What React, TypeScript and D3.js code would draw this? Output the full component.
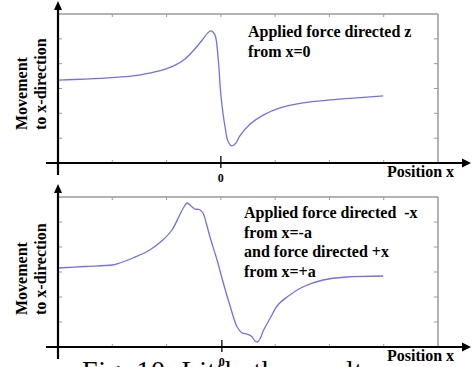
import React from "react";
import * as d3 from "d3";

// Panel 1: force directed z applied at x = 0
const topX = [-3, -2.5, -2, -1.5, -1.31, -1.01, -0.85, -0.66, -0.48, -0.33, -0.24, -0.18, -0.11, -0.05, 0, 0.08, 0.13, 0.2, 0.28, 0.35, 0.54, 0.78, 1.09, 1.51, 2.01, 2.62, 2.99];
const topY = [3.34, 3.38, 3.44, 3.54, 3.62, 3.79, 3.93, 4.19, 4.59, 4.99, 5.24, 5.32, 5.16, 4.23, 2.74, 1.41, 0.89, 0.69, 0.81, 1.09, 1.57, 1.93, 2.22, 2.42, 2.54, 2.64, 2.7];

// Panel 2: force -x at x = -a and +x at x = +a
const botX = [-3, -2.5, -2, -1.86, -1.62, -1.31, -1.07, -0.9, -0.75, -0.68, -0.62, -0.55, -0.48, -0.4, -0.33, -0.26, -0.2, -0.07, 0.04, 0.17, 0.3, 0.39, 0.48, 0.56, 0.63, 0.67, 0.72, 0.78, 0.91, 1.05, 1.22, 1.51, 1.88, 2.32, 2.99];
const botY = [3.16, 3.22, 3.28, 3.36, 3.56, 3.88, 4.28, 4.68, 5.32, 5.6, 5.76, 5.64, 5.52, 5.5, 5.36, 4.88, 4.4, 3.48, 2.6, 1.64, 0.8, 0.56, 0.52, 0.44, 0.24, 0.2, 0.32, 0.64, 1.16, 1.68, 2.0, 2.4, 2.68, 2.8, 2.84];

const xTicks = [-3, -2, -1, 0, 1, 2, 3, 4];
const yTicks = [0, 1, 2, 3, 4, 5, 6];

const topNote = ["Applied force directed z", "from x=0"];
const botNote = ["Applied force directed  -x", "from x=-a", "and force directed +x", "from x=+a"];
const yLabel = ["Movement", "to x-direction"];
const xLabel = "Position x";
const caption = "Fig. 10: Little the result";

const W = 472;
const H = 367;
const FONT = "'Liberation Serif', 'Times New Roman', serif";
const CURVE = "#6f6ff7";
const GRAY = "#9a9a9a";

type PanelProps = {
  xs: number[];
  ys: number[];
  top: number;
  bottom: number;
  zeroShift: number;
  note: string[];
  noteX: number;
  noteY: number;
  labelY: number;
};

function Panel({ xs, ys, top, bottom, zeroShift, note, noteX, noteY, labelY }: PanelProps) {
  const x = d3.scaleLinear().domain([-3, 4]).range([58, 438]);
  const y = d3.scaleLinear().domain([0, 6]).range([bottom, top]);
  const pts: [number, number][] = xs.map((v, i) => [v, ys[i]]);
  const line = d3
    .line<[number, number]>()
    .x((d) => x(d[0]))
    .y((d) => y(d[1]))
    .curve(d3.curveCatmullRom.alpha(0.5));
  const x0 = x(0) + zeroShift;
  const left = x(-3);
  const right = x(4);
  return (
    <g>
      {/* frame */}
      <line x1={left} x2={right} y1={top} y2={top} stroke={GRAY} strokeWidth={1.5} />
      <line x1={right} x2={right} y1={top} y2={bottom} stroke={GRAY} strokeWidth={1.5} />
      {yTicks.slice(1, -1).map((t) => (
        <g key={"y" + t}>
          <line x1={left} x2={left + 4} y1={y(t)} y2={y(t)} stroke={GRAY} strokeWidth={1} />
          <line x1={right - 4} x2={right} y1={y(t)} y2={y(t)} stroke={GRAY} strokeWidth={1} />
        </g>
      ))}
      {xTicks.slice(1, -1).filter((t) => t !== 0).map((t) => (
        <g key={"x" + t}>
          <line x1={x(t)} x2={x(t)} y1={top} y2={top + 3} stroke={GRAY} strokeWidth={1} />
          <line x1={x(t)} x2={x(t)} y1={bottom - 3} y2={bottom} stroke={GRAY} strokeWidth={1} />
        </g>
      ))}
      <line x1={x(0)} x2={x(0)} y1={top} y2={top + 3} stroke={GRAY} strokeWidth={1} />

      {/* curve */}
      <path d={line(pts) ?? ""} fill="none" stroke={CURVE} strokeWidth={1.3} />

      {/* axes */}
      <line x1={46} x2={463} y1={bottom} y2={bottom} stroke="#000" strokeWidth={2.2} />
      <path d={`M471,${bottom} L462,${bottom - 4.5} L462,${bottom + 4.5} Z`} fill="#000" />
      <line x1={left} x2={left} y1={top - 6} y2={bottom + 12} stroke="#000" strokeWidth={2.2} />
      <path d={`M${left},${top - 13} L${left - 4},${top - 4} L${left + 4},${top - 4} Z`} fill="#000" />
      <line x1={x0} x2={x0} y1={bottom - 7} y2={bottom + 5} stroke="#000" strokeWidth={1.3} />
      <text x={x0} y={bottom + 19} fontFamily={FONT} fontWeight="bold" fontSize={12} textAnchor="middle">
        0
      </text>
      <text x={387} y={bottom + 14} fontFamily={FONT} fontWeight="bold" fontSize={16}>
        {xLabel}
      </text>

      {/* y label */}
      <text transform={`translate(27,${labelY}) rotate(-90)`} fontFamily={FONT} fontWeight="bold" fontSize={16}>
        {yLabel[0]}
      </text>
      <text transform={`translate(46,${labelY}) rotate(-90)`} fontFamily={FONT} fontWeight="bold" fontSize={16}>
        {yLabel[1]}
      </text>

      {/* annotation */}
      {note.map((s, i) => (
        <text key={i} x={noteX} y={noteY + i * 19.7} fontFamily={FONT} fontWeight="bold" fontSize={16} xmlSpace="preserve">
          {s}
        </text>
      ))}
    </g>
  );
}

export default function App() {
  return (
    <svg
      width={W}
      height={H}
      viewBox={`0 0 ${W} ${H}`}
      style={{ position: "fixed", left: 0, top: 0, display: "block", background: "#fff" }}
    >
      <rect width={W} height={H} fill="#fff" />
      <Panel xs={topX} ys={topY} top={14} bottom={163} zeroShift={0} note={topNote} noteX={248} noteY={37} labelY={130} />
      <Panel xs={botX} ys={botY} top={197} bottom={347} zeroShift={1} note={botNote} noteX={244} noteY={218} labelY={315} />
      <text x={82} y={380} fontFamily={FONT} fontSize={28} letterSpacing={0.6}>
        {caption}
      </text>
    </svg>
  );
}
